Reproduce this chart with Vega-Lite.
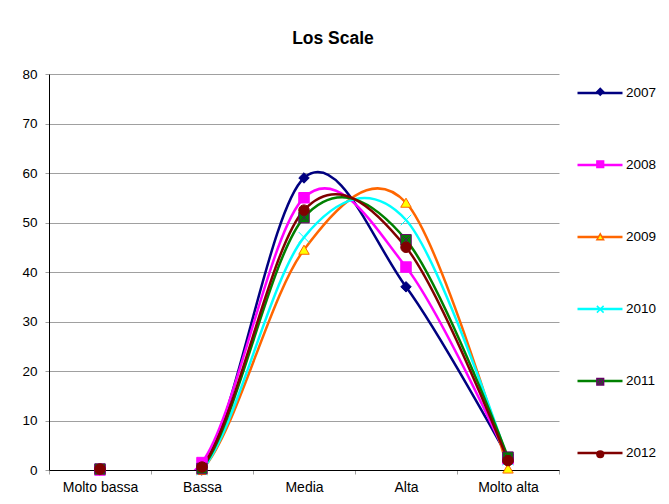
{
  "$schema": "https://vega.github.io/schema/vega-lite/v6.json",
  "width": 510,
  "height": 396,
  "autosize": {"type": "none"},
  "padding": {"left": 49, "top": 74, "right": 110, "bottom": 34},
  "background": "white",
  "title": {"text": "Los Scale", "font": "Liberation Sans", "fontSize": 17.5, "fontWeight": "bold", "color": "#000", "anchor": "middle", "frame": "group", "dx": 29, "baseline": "alphabetic", "offset": 6},
  "config": {
    "view": {"stroke": null},
    "font": "Liberation Sans",
    "axis": {"labelFont": "Liberation Sans", "labelColor": "#000"},
    "legend": {"labelFont": "Liberation Sans", "labelColor": "#000"}
  },
  "data": {"values": [
    {"series": "2007", "cat": "Molto bassa", "value": 0},
    {"series": "2007", "cat": "Bassa", "value": 0},
    {"series": "2007", "cat": "Media", "value": 59},
    {"series": "2007", "cat": "Alta", "value": 37},
    {"series": "2007", "cat": "Molto alta", "value": 2.5},
    {"series": "2008", "cat": "Molto bassa", "value": 0},
    {"series": "2008", "cat": "Bassa", "value": 1.5},
    {"series": "2008", "cat": "Media", "value": 55},
    {"series": "2008", "cat": "Alta", "value": 41},
    {"series": "2008", "cat": "Molto alta", "value": 2.2},
    {"series": "2009", "cat": "Molto bassa", "value": 0},
    {"series": "2009", "cat": "Bassa", "value": 0},
    {"series": "2009", "cat": "Media", "value": 44.5},
    {"series": "2009", "cat": "Alta", "value": 54},
    {"series": "2009", "cat": "Molto alta", "value": 0.3},
    {"series": "2010", "cat": "Molto bassa", "value": 0},
    {"series": "2010", "cat": "Bassa", "value": 0},
    {"series": "2010", "cat": "Media", "value": 47},
    {"series": "2010", "cat": "Alta", "value": 50.5},
    {"series": "2010", "cat": "Molto alta", "value": 2},
    {"series": "2011", "cat": "Molto bassa", "value": 0.2},
    {"series": "2011", "cat": "Bassa", "value": 0.3},
    {"series": "2011", "cat": "Media", "value": 51},
    {"series": "2011", "cat": "Alta", "value": 46.5},
    {"series": "2011", "cat": "Molto alta", "value": 2.6},
    {"series": "2012", "cat": "Molto bassa", "value": 0.2},
    {"series": "2012", "cat": "Bassa", "value": 0.6},
    {"series": "2012", "cat": "Media", "value": 52.5},
    {"series": "2012", "cat": "Alta", "value": 45},
    {"series": "2012", "cat": "Molto alta", "value": 1.9}
  ]},
  "encoding": {
    "x": {
      "field": "cat", "type": "nominal",
      "sort": ["Molto bassa", "Bassa", "Media", "Alta", "Molto alta"],
      "scale": {"type": "band", "paddingInner": 0, "paddingOuter": 0},
      "axis": {"title": null, "labelAngle": 0, "labelFontSize": 14, "tickBand": "extent", "tickColor": "#a0a0a0", "tickSize": 4, "domainColor": "#000", "domainWidth": 1, "labelPadding": 6, "grid": false}
    },
    "y": {
      "field": "value", "type": "quantitative",
      "scale": {"domain": [0, 80]},
      "axis": {"title": null, "values": [0, 10, 20, 30, 40, 50, 60, 70, 80], "grid": true, "gridColor": "#a0a0a0", "gridWidth": 1, "domainColor": "#000", "domainWidth": 1, "tickColor": "#a0a0a0", "tickSize": 4, "labelPadding": 8, "labelFontSize": 13.5}
    }
  },
  "layer": [
    {
      "mark": {"type": "line", "interpolate": "cardinal", "tension": 0, "strokeWidth": 2.5, "clip": true},
      "encoding": {
        "color": {
          "field": "series", "type": "nominal",
          "scale": {"domain": ["2007", "2008", "2009", "2010", "2011", "2012"], "range": ["#000080", "#ff00ff", "#ff6600", "#00ffff", "#008000", "#800000"]},
          "legend": {"orient": "none", "legendX": 527, "legendY": -5, "title": null, "symbolType": "stroke", "symbolSize": 2025, "symbolStrokeWidth": 2.5, "labelFontSize": 13.5, "labelOffset": 2, "rowPadding": 41, "padding": 0}
        }
      }
    },
    {
      "mark": {"type": "point", "filled": true, "size": 110, "strokeWidth": 1, "opacity": 1},
      "encoding": {
        "shape": {
          "field": "series", "type": "nominal",
          "scale": {"range": ["diamond", "square", "triangle-up", "M-1,-1L1,1M-1,1L1,-1", "M-1,-1H1V1H-1Z M-0.6,-0.6L0.6,0.6 M-0.6,0.6L0.6,-0.6", "circle"]},
          "legend": {"orient": "none", "legendX": 527, "legendY": 11, "title": null, "symbolSize": 45, "symbolOffset": 17.5, "labelExpr": "''", "labelFontSize": 13.5, "rowPadding": 57.5, "padding": 0}
        },
        "fill": {
          "field": "series", "type": "nominal",
          "scale": {"range": ["#000080", "#ff00ff", "#ffff00", "#00ffff", "#008000", "#800000"]},
          "legend": {"orient": "none", "legendX": 527, "legendY": 11, "title": null, "symbolSize": 45, "symbolOffset": 17.5, "labelExpr": "''", "labelFontSize": 13.5, "rowPadding": 57.5, "padding": 0}
        },
        "stroke": {
          "field": "series", "type": "nominal",
          "scale": {"range": ["#000080", "#ff00ff", "#ff6600", "#00ffff", "#660066", "#800000"]},
          "legend": {"orient": "none", "legendX": 527, "legendY": 11, "title": null, "symbolSize": 45, "symbolOffset": 17.5, "labelExpr": "''", "labelFontSize": 13.5, "rowPadding": 57.5, "padding": 0}
        }
      }
    }
  ]
}
